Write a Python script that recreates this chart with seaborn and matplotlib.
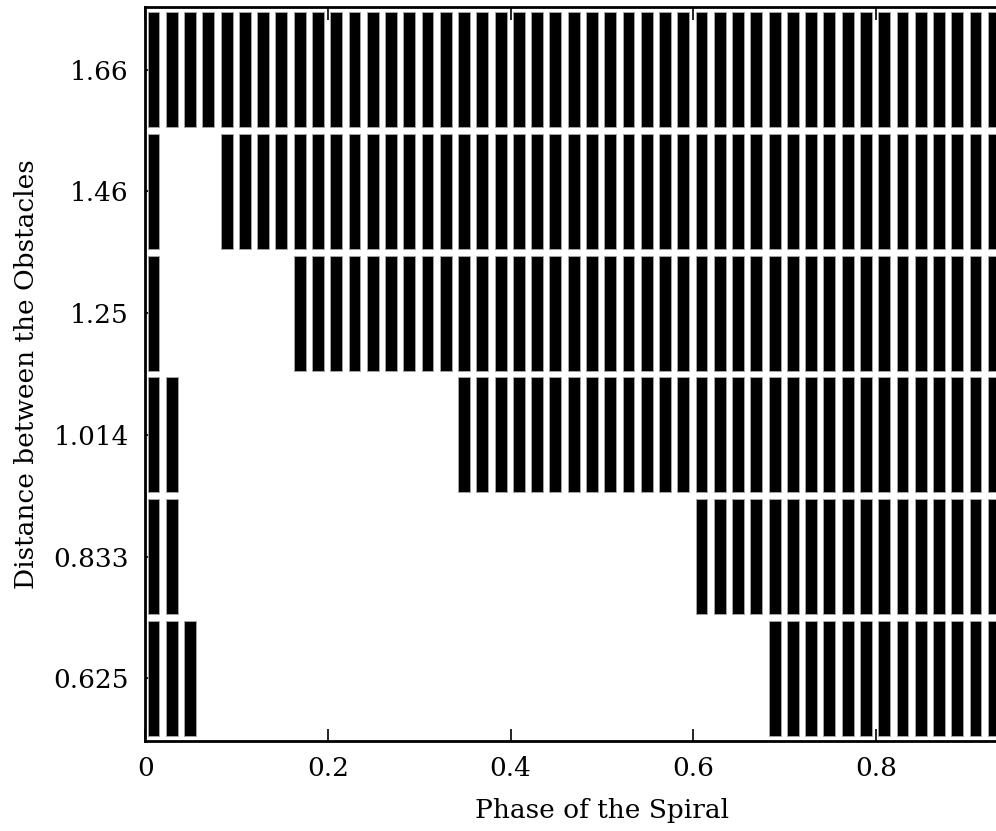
import numpy as np
import matplotlib
matplotlib.use("Agg")
import matplotlib.pyplot as plt
import seaborn as sns

# Obstacle spacing for each row (bottom to top) and the phase grid sampled.
distances = ["0.625", "0.833", "1.014", "1.25", "1.46", "1.66"]
phases = [0.00, 0.02, 0.04, 0.06, 0.08, 0.10, 0.12, 0.14, 0.16, 0.18,
          0.20, 0.22, 0.24, 0.26, 0.28, 0.30, 0.32, 0.34, 0.36, 0.38,
          0.40, 0.42, 0.44, 0.46, 0.48, 0.50, 0.52, 0.54, 0.56, 0.58,
          0.60, 0.62, 0.64, 0.66, 0.68, 0.70, 0.72, 0.74, 0.76, 0.78,
          0.80, 0.82, 0.84, 0.86, 0.88, 0.90, 0.92]

# Low phases that pass, and the phase from which every run passes.
early_phases = [[0.00, 0.02, 0.04],
                [0.00, 0.02],
                [0.00, 0.02],
                [0.00],
                [0.00],
                []]
onset_phase = [0.68, 0.60, 0.34, 0.16, 0.08, 0.00]

x_ticks = [0, 0.2, 0.4, 0.6, 0.8]
x_ticklabels = ["0", "0.2", "0.4", "0.6", "0.8"]

sns.set_style("ticks")
plt.rcParams["font.family"] = ["DejaVu Serif"]
plt.rcParams["text.color"] = "black"
plt.rcParams["axes.labelcolor"] = "black"

fig = plt.figure(figsize=(9.96, 8.31), dpi=100)
ax = fig.add_axes([0.1459, 0.1083, 0.917, 0.8833])

for row, (early, onset) in enumerate(zip(early_phases, onset_phase)):
    hits = [p for p in phases if (p in early) or (p >= onset - 1e-9)]
    x = np.array(hits) + 0.009
    ax.bar(x, 0.945, bottom=row - 0.4725, width=0.0130, align="center",
           color="black", edgecolor="#a8a8a8", linewidth=0.6, zorder=1)

ax.set_xlim(0, 1.0)
ax.set_ylim(-0.515, 5.515)
ax.set_xticks(x_ticks)
ax.set_xticklabels(x_ticklabels)
ax.set_yticks(range(len(distances)))
ax.set_yticklabels(distances)

for s in ax.spines.values():
    s.set_linewidth(2.0)
    s.set_color("black")
    s.set_visible(True)

ax.tick_params(axis="both", which="major", direction="in", length=9,
               width=1.2, colors="black", labelsize=19,
               top=True, right=True)
ax.tick_params(axis="x", pad=11)
ax.tick_params(axis="y", pad=12)

ax.set_xlabel("Phase of the Spiral", fontsize=19, labelpad=12, color="black")
ax.set_ylabel("Distance between the Obstacles", fontsize=19, labelpad=10,
              color="black")
ax.grid(False)

fig.savefig("out.png", dpi=100)
